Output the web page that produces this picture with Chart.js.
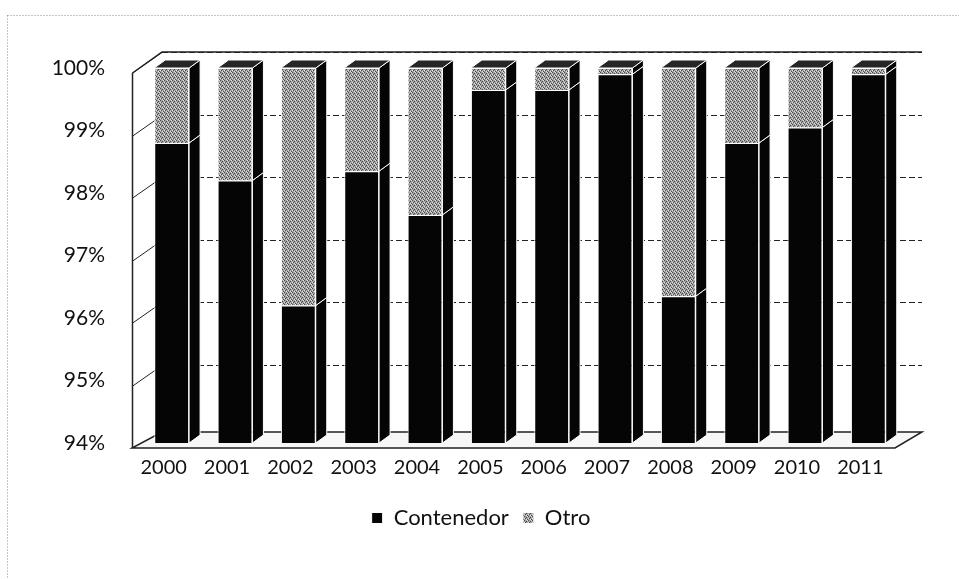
<!DOCTYPE html>
<html>
<head>
<meta charset="utf-8">
<script src="https://cdn.jsdelivr.net/npm/chart.js@4.4.0/dist/chart.umd.min.js"></script>
<style>
  html, body { margin: 0; padding: 0; background: #fff; }
  #wrap { width: 959px; height: 579px; }
</style>
</head>
<body>
<div id="wrap"><canvas id="grafico" width="959" height="579"></canvas></div>
<script>
// datos (porcentaje del total)
const anios = ['2000', '2001', '2002', '2003', '2004', '2005', '2006', '2007', '2008', '2009', '2010', '2011'];
const contenedor = [98.8, 98.2, 96.2, 98.35, 97.65, 99.65, 99.65, 99.9, 96.35, 98.8, 99.05, 99.9];
const otro = [1.2, 1.8, 3.8, 1.65, 2.35, 0.35, 0.35, 0.1, 3.65, 1.2, 0.95, 0.1];
const ejeMin = 94;
const ejeMax = 100;

// textura gris tipo "escaneado" para la serie Otro
function texturaGris() {
  const c = document.createElement('canvas');
  c.width = 4; c.height = 4;
  const g = c.getContext('2d');
  g.fillStyle = '#a4a4a4';
  g.fillRect(0, 0, 4, 4);
  const oscuros = [[0, 0], [2, 1], [1, 2], [3, 3]];
  const claros = [[2, 3], [0, 2], [3, 0]];
  g.fillStyle = '#4a4a4a';
  oscuros.forEach(p => g.fillRect(p[0], p[1], 1, 1));
  g.fillStyle = '#e0e0e0';
  claros.forEach(p => g.fillRect(p[0], p[1], 1, 1));
  return g.createPattern(c, 'repeat');
}

const FONDO_DX = 22, FONDO_DY = -16;   // profundidad de la pared del fondo
const BARRA_DX = 11, BARRA_DY = -8;    // profundidad de cada barra

// marco punteado, pared, piso y caras laterales/superiores de las barras
const efecto3d = {
  id: 'efecto3d',
  afterLayout(chart) {
    // la leyenda va centrada un poco mas a la derecha
    chart.legend.left = 62;
  },
  beforeDraw(chart) {
    const ctx = chart.ctx;
    ctx.save();
    ctx.strokeStyle = '#8a8a8a';
    ctx.lineWidth = 1;
    ctx.setLineDash([1, 2]);
    ctx.strokeRect(7.5, 15.5, 1000, 1000);
    ctx.restore();
  },
  beforeDatasetsDraw(chart) {
    const ctx = chart.ctx;
    const area = chart.chartArea;
    const y = chart.scales.y;
    const izq = area.left - 8;
    const frenteAbajo = area.bottom + 5;
    ctx.save();
    ctx.strokeStyle = '#222';
    ctx.lineWidth = 1;

    // lineas de la cuadricula en la pared del fondo
    y.ticks.forEach(t => {
      const py = Math.round(y.getPixelForValue(t.value)) + 0.5;
      if (t.value > ejeMin) {
        ctx.setLineDash([6, 3]);
        ctx.beginPath();
        ctx.moveTo(area.left + FONDO_DX, py + FONDO_DY);
        ctx.lineTo(area.right + FONDO_DX, py + FONDO_DY);
        ctx.stroke();
        ctx.setLineDash([]);
        ctx.beginPath();
        ctx.moveTo(izq, py + 5);
        ctx.lineTo(area.left + FONDO_DX, py + FONDO_DY);
        ctx.stroke();
      }
    });

    // borde superior y lateral izquierdo de la pared
    ctx.lineWidth = 1.5;
    ctx.beginPath();
    ctx.moveTo(izq + 0.5, area.top + 5);
    ctx.lineTo(area.left + FONDO_DX, area.top + FONDO_DY);
    ctx.lineTo(area.right + FONDO_DX, area.top + FONDO_DY);
    ctx.stroke();
    ctx.beginPath();
    ctx.moveTo(izq + 0.5, area.top + 5);
    ctx.lineTo(izq + 0.5, frenteAbajo);
    ctx.stroke();

    // piso
    ctx.fillStyle = '#f7f7f7';
    ctx.beginPath();
    ctx.moveTo(izq, frenteAbajo);
    ctx.lineTo(area.right - 5, frenteAbajo);
    ctx.lineTo(area.right + FONDO_DX, area.bottom + FONDO_DY + 5);
    ctx.lineTo(area.left + FONDO_DX, area.bottom + FONDO_DY + 5);
    ctx.closePath();
    ctx.fill();
    ctx.stroke();

    // caras laterales y tapas
    const n = chart.data.datasets.length;
    for (let d = 0; d < n; d++) {
      const meta = chart.getDatasetMeta(d);
      meta.data.forEach((bar, i) => {
        const p = bar.getProps(['x', 'y', 'base', 'width'], true);
        const der = p.x + p.width / 2;
        const izqB = p.x - p.width / 2;
        const arriba = Math.max(p.y, area.top);
        const abajo = Math.min(p.base, area.bottom);
        ctx.lineWidth = 1;
        ctx.strokeStyle = '#fff';
        ctx.fillStyle = '#050505';
        ctx.beginPath();
        ctx.moveTo(der, abajo);
        ctx.lineTo(der, arriba);
        ctx.lineTo(der + BARRA_DX, arriba + BARRA_DY);
        ctx.lineTo(der + BARRA_DX, abajo + BARRA_DY);
        ctx.closePath();
        ctx.fill();
        ctx.stroke();
        if (d === n - 1) {
          ctx.fillStyle = '#262626';
          ctx.beginPath();
          ctx.moveTo(izqB, arriba);
          ctx.lineTo(izqB + BARRA_DX, arriba + BARRA_DY);
          ctx.lineTo(der + BARRA_DX, arriba + BARRA_DY);
          ctx.lineTo(der, arriba);
          ctx.closePath();
          ctx.fill();
          ctx.stroke();
        }
      });
    }
    ctx.restore();
  }
};

const familia = 'Lato, Carlito, "Liberation Sans", sans-serif';

new Chart(document.getElementById('grafico'), {
  type: 'bar',
  data: {
    labels: anios,
    datasets: [
      {
        label: 'Contenedor',
        data: contenedor,
        backgroundColor: '#050505',
        borderColor: '#fff',
        borderWidth: 1,
        barPercentage: 1,
        categoryPercentage: 0.55
      },
      {
        label: 'Otro',
        data: otro,
        backgroundColor: texturaGris(),
        borderColor: '#fff',
        borderWidth: 1,
        barPercentage: 1,
        categoryPercentage: 0.55
      }
    ]
  },
  options: {
    responsive: false,
    animation: false,
    layout: { padding: { left: 0, right: 59, top: 68, bottom: 40 } },
    plugins: {
      tooltip: { enabled: false },
      legend: {
        position: 'bottom',
        labels: {
          color: '#111',
          font: { family: familia, size: 22 },
          boxWidth: 11,
          boxHeight: 11,
          padding: 14,
          useBorderRadius: false
        }
      }
    },
    scales: {
      x: {
        stacked: true,
        grid: { display: false, drawTicks: false },
        border: { display: false },
        ticks: { color: '#111', font: { family: familia, size: 20 }, padding: 13, labelOffset: -8, maxRotation: 0 }
      },
      y: {
        stacked: true,
        min: ejeMin,
        max: ejeMax,
        grid: { display: false, drawTicks: false },
        border: { display: false },
        ticks: {
          color: '#111',
          font: { family: familia, size: 21 },
          stepSize: 1,
          padding: 35,
          callback: v => v + '%'
        },
        afterFit: s => { s.width = 140; }
      }
    }
  },
  plugins: [efecto3d]
});
</script>
</body>
</html>
